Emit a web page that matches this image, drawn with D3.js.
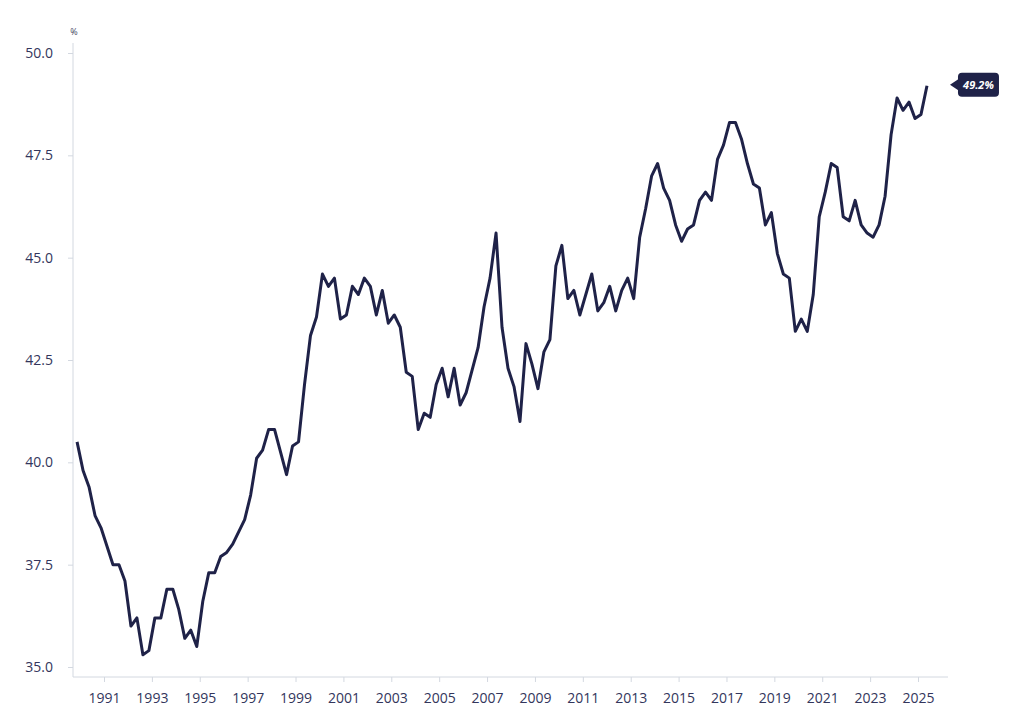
<!DOCTYPE html>
<html lang="en">
<head>
    <meta charset="UTF-8">
    <script src="https://cdn.jsdelivr.net/npm/d3@7"></script>
    <title>Share over time</title>
    <style>
        body {
            margin: 0;
            background: #ffffff;
        }

        svg {
            display: block;
            font-family: "Open Sans", sans-serif;
        }

        .axis text {
            fill: #33365c;
            font-size: 14px;
            font-family: "Open Sans", sans-serif;
        }

        .axis line {
            stroke: #d3d8e0;
        }
    </style>
</head>
<body>
<svg width="1024" height="709"></svg>

<script>
    const WIDTH = 1024;
    const HEIGHT = 709;

    // quarterly series, first point is 1989 Q4 (plotted at quarter midpoint)
    const START_YEAR = 1989;
    const START_QUARTER = 4;
    const values = [
        40.5, 39.8, 39.4, 38.7, 38.4, 37.95, 37.5, 37.5, 37.1, 36.0,
        36.2, 35.3, 35.4, 36.2, 36.2, 36.9, 36.9, 36.4, 35.7, 35.9,
        35.5, 36.6, 37.3, 37.3, 37.7, 37.8, 38.0, 38.3, 38.6, 39.2,
        40.1, 40.3, 40.8, 40.8, 40.25, 39.7, 40.4, 40.5, 41.9, 43.1,
        43.55, 44.6, 44.3, 44.5, 43.5, 43.6, 44.3, 44.1, 44.5, 44.3,
        43.6, 44.2, 43.4, 43.6, 43.3, 42.2, 42.1, 40.8, 41.2, 41.1,
        41.9, 42.3, 41.6, 42.3, 41.4, 41.7, 42.25, 42.8, 43.8, 44.5,
        45.6, 43.3, 42.3, 41.85, 41.0, 42.9, 42.4, 41.8, 42.7, 43.0,
        44.8, 45.3, 44.0, 44.2, 43.6, 44.1, 44.6, 43.7, 43.9, 44.3,
        43.7, 44.2, 44.5, 44.0, 45.5, 46.2, 47.0, 47.3, 46.7, 46.4,
        45.8, 45.4, 45.7, 45.8, 46.4, 46.6, 46.4, 47.4, 47.75, 48.3,
        48.3, 47.9, 47.3, 46.8, 46.7, 45.8, 46.1, 45.1, 44.6, 44.5,
        43.2, 43.5, 43.2, 44.1, 46.0, 46.6, 47.3, 47.2, 46.0, 45.9,
        46.4, 45.8, 45.6, 45.5, 45.8, 46.5, 48.0, 48.9, 48.6, 48.8,
        48.4, 48.5, 49.2
    ];

    const yTicks = [35, 37.5, 40, 42.5, 45, 47.5, 50];
    const xTicks = [1991, 1993, 1995, 1997, 1999, 2001, 2003, 2005, 2007, 2009,
        2011, 2013, 2015, 2017, 2019, 2021, 2023, 2025];
    const unitLabel = "%";

    function init() {
        const data = makeData();
        const [x, y] = makeScales();
        drawAxes(x, y);
        drawLine(data, x, y);
        drawCallout(data, x, y);
    }

    function makeData() {
        return values.map((v, i) => {
            const q = START_QUARTER - 1 + i;
            const year = START_YEAR + Math.floor(q / 4);
            const quarter = q % 4;
            return {
                t: year + quarter * 0.25 + 0.125,
                value: v
            };
        });
    }

    function makeScales() {
        const x = d3.scaleLinear()
            .domain([1991, 2025])
            .range([104, 918]);

        const y = d3.scaleLinear()
            .domain([35, 50])
            .range([667, 53]);

        return [x, y];
    }

    function drawAxes(x, y) {
        const svg = d3.select("svg");
        const left = 73;
        const bottom = 677;

        const yAxis = svg.append("g")
            .attr("class", "axis left")
            .attr("transform", `translate(${left}, 0)`)
            .call(d3.axisLeft(y)
                .tickValues(yTicks)
                .tickFormat(d3.format(".1f"))
                .tickSize(5)
                .tickPadding(15));
        yAxis.select(".domain").remove();

        const xAxis = svg.append("g")
            .attr("class", "axis bottom")
            .attr("transform", `translate(0, ${bottom})`)
            .call(d3.axisBottom(x)
                .tickValues(xTicks)
                .tickFormat(d3.format("d"))
                .tickSize(5)
                .tickPadding(11));
        xAxis.select(".domain").remove();

        // axis lines run a bit past the scale ranges
        svg.append("line")
            .attr("x1", left).attr("x2", left)
            .attr("y1", 43).attr("y2", bottom)
            .attr("stroke", "#d3d8e0");

        svg.append("line")
            .attr("x1", left).attr("x2", 948)
            .attr("y1", bottom).attr("y2", bottom)
            .attr("stroke", "#d3d8e0");

        svg.append("text")
            .attr("x", left + 1)
            .attr("y", 35)
            .attr("text-anchor", "middle")
            .style("font-size", "9px")
            .style("fill", "#44475f")
            .text(unitLabel);
    }

    function drawLine(data, x, y) {
        const line = d3.line()
            .x(d => x(d.t))
            .y(d => y(d.value));

        d3.select("svg")
            .append("path")
            .datum(data)
            .attr("d", line)
            .attr("fill", "none")
            .attr("stroke", "#1f2248")
            .attr("stroke-width", 3)
            .attr("stroke-linejoin", "round");
    }

    function drawCallout(data, x, y) {
        const last = data[data.length - 1];
        const tipX = x(last.t) + 23;
        const tipY = y(last.value) - 1;
        const boxX = tipX + 8;
        const boxW = 41;
        const boxH = 24;

        const g = d3.select("svg").append("g").attr("class", "callout");

        g.append("path")
            .attr("d", `M${tipX},${tipY} L${boxX + 1},${tipY - 6} L${boxX + 1},${tipY + 6} Z`)
            .attr("fill", "#1f2248");

        g.append("rect")
            .attr("x", boxX)
            .attr("y", tipY - boxH / 2)
            .attr("width", boxW)
            .attr("height", boxH)
            .attr("rx", 4)
            .attr("fill", "#1f2248");

        g.append("text")
            .attr("x", boxX + boxW / 2)
            .attr("y", tipY)
            .attr("dy", "0.35em")
            .attr("text-anchor", "middle")
            .style("font-size", "11px")
            .style("font-weight", "bold")
            .style("font-style", "italic")
            .style("fill", "#ffffff")
            .text(d3.format(".1f")(last.value) + "%");
    }

    init();
</script>
</body>
</html>
